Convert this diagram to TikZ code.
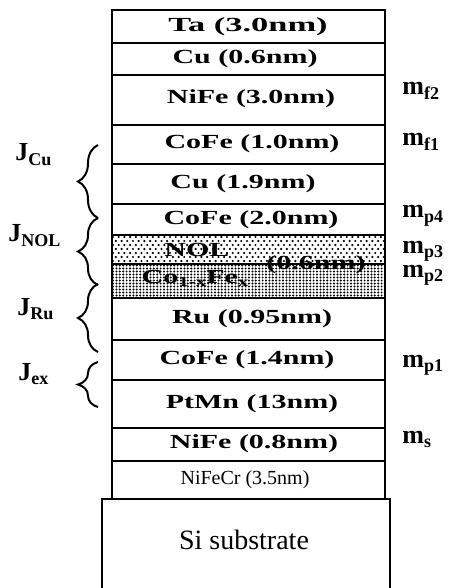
\documentclass[tikz,border=0pt]{standalone}
\usepackage{fontspec}
\setmainfont{Liberation Serif}
\newfontfamily\widefont{Liberation Serif}[FakeStretch=1.5]
\newfontfamily\widerfont{Liberation Serif}[FakeStretch=1.72]
\usetikzlibrary{decorations.pathreplacing}
\newcommand{\dn}[1]{\raisebox{-0.35ex}{\fontsize{9}{9}\selectfont #1}}
\newcommand{\ldn}[1]{\raisebox{-0.3ex}{\fontsize{7}{7}\selectfont #1}}
\tikzset{
  layer/.style={draw, line width=0.6pt},
  lbl/.style={font=\widefont\bfseries\fontsize{10}{11}\selectfont, inner sep=0pt},
  thinlbl/.style={font=\fontsize{10}{11}\selectfont, inner sep=0pt},
  mlbl/.style={font=\bfseries\fontsize{13}{14}\selectfont, anchor=base west, inner sep=0pt},
  jbrace/.style={decorate, decoration={brace, amplitude=10pt}, line width=1pt}
}
\begin{document}
\begin{tikzpicture}[x=0.5pt, y=-0.5pt]
  \useasboundingbox (0,0) rectangle (454,588);
  % dotted layers
  \begin{scope}
    \clip (112,235) rectangle (385,264);
    \foreach \r in {0,...,6} {
      \pgfmathsetmacro{\sh}{mod(\r,2)*2.85}
      \foreach \c in {0,...,48} \fill (113+\sh+\c*5.7, 237+\r*4) circle (0.6pt);
    }
  \end{scope}
  \begin{scope}
    \clip (112,264) rectangle (385,298);
    \foreach \r in {0,...,11}
      \foreach \c in {0,...,81} \fill (113+\c*3.4, 265.5+\r*3) circle (0.55pt);
  \end{scope}
  % stack
  \draw[layer] (112,10) rectangle (385,499);
  \foreach \yy in {43,75,125,164,204,235,264,298,340,380,428,461}
    \draw[layer] (112,\yy) -- (385,\yy);
  \draw[line width=1.4pt] (102,590) -- (102,499) -- (390,499) -- (390,590);
  % layer names
  \node[lbl, font=\widerfont\bfseries\fontsize{10}{11}\selectfont] (ta) at (248,27) {Ta (3.0nm)};
  \node[lbl] (cutop) at (245,59) {Cu (0.6nm)};
  \node[lbl] (nifetop) at (251,99) {NiFe (3.0nm)};
  \node[lbl] (cofeone) at (252,144) {CoFe (1.0nm)};
  \node[lbl] (cumid) at (243,184) {Cu (1.9nm)};
  \node[lbl] (cofetwo) at (251,220) {CoFe (2.0nm)};
  \node[lbl] (nol) at (197,250) {NOL};
  \node[lbl] (nolthick) at (316,265) {(0.6nm)};
  \node[lbl] (cofex) at (195,278) {Co\ldn{1-x}Fe\ldn{x}};
  \node[lbl] (ru) at (252,319) {Ru (0.95nm)};
  \node[lbl] (cofefour) at (247,360) {CoFe (1.4nm)};
  \node[lbl] (ptmn) at (252,404) {PtMn (13nm)};
  \node[lbl] (nifebot) at (254,444) {NiFe (0.8nm)};
  \node[thinlbl] (nifecr) at (245,480) {NiFeCr (3.5nm)};
  \node[font=\fontsize{14}{15}\selectfont] (si) at (244,540) {Si substrate};
  % moments
  \node[mlbl] (mftwo) at (402,95) {m\dn{f2}};
  \node[mlbl] (mfone) at (402,146) {m\dn{f1}};
  \node[mlbl] (mpfour) at (402,218) {m\dn{p4}};
  \node[mlbl] (mpthree) at (402,253) {m\dn{p3}};
  \node[mlbl] (mptwo) at (402,277) {m\dn{p2}};
  \node[mlbl] (mpone) at (402,367) {m\dn{p1}};
  \node[mlbl] (ms) at (402,443) {m\dn{s}};
  % couplings
  \node[mlbl] (jcu) at (15,161) {J\dn{Cu}};
  \node[mlbl] (jnol) at (8,242) {J\dn{NOL}};
  \node[mlbl] (jru) at (17,315) {J\dn{Ru}};
  \node[mlbl] (jex) at (18,380) {J\dn{ex}};
  \draw[jbrace] (98,218) -- (98,145);
  \draw[jbrace] (98,285) -- (98,218);
  \draw[jbrace] (98,352) -- (98,284);
  \draw[jbrace] (98,407) -- (98,362);
\end{tikzpicture}
\end{document}
